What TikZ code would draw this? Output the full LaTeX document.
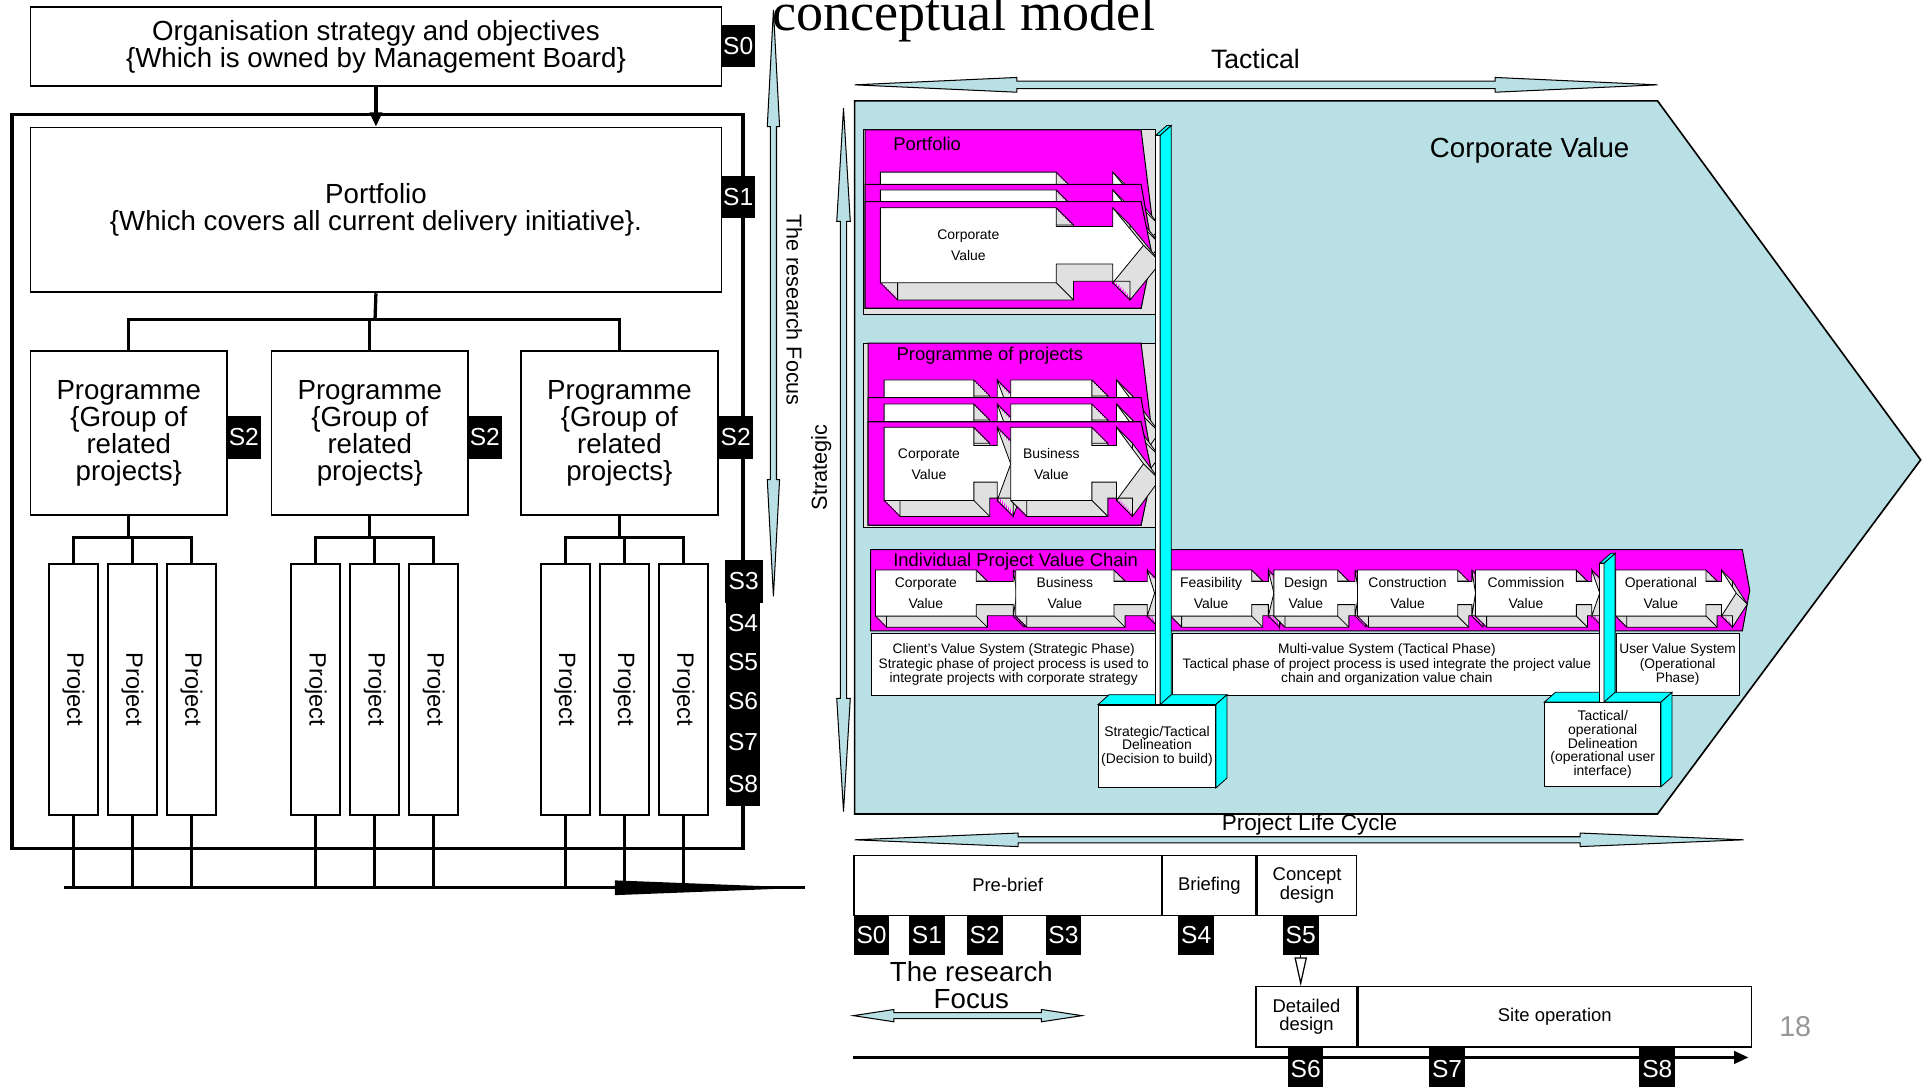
\documentclass[tikz,border=0pt]{standalone}
\usepackage{fontspec}
\setmainfont{Liberation Sans}
\newfontfamily\titlefont{Liberation Serif}
\usetikzlibrary{positioning,calc,arrows.meta}

\definecolor{cvblue}{RGB}{185,224,228}
\definecolor{panelgray}{RGB}{226,226,226}
\definecolor{sidegray}{RGB}{224,224,224}
\definecolor{valmag}{RGB}{255,0,255}
\definecolor{barcyan}{RGB}{0,255,255}
\definecolor{pagegray}{RGB}{150,150,150}

\newdimen\unitpx
\unitpx=0.6pt

% outline of a 3D value arrow: length, height, body end, shaft end, shift x, shift y
\newcommand{\arrowpath}[6]{({#5},{#6}) -- ({#3+#5},{#6}) -- ({#3+#5},{0.25*#2+#6}) -- ({#4+#5},{0.25*#2+#6}) -- ({#4+#5},{#6}) -- ({#1+#5},{0.5*#2+#6}) -- ({#4+#5},{#2+#6}) -- ({#4+#5},{0.75*#2+#6}) -- ({#3+#5},{0.75*#2+#6}) -- ({#3+#5},{#2+#6}) -- ({#5},{#2+#6}) -- cycle}

% x, y, length, height, body end, shaft end, depth, name, text
\newcommand{\valarrow}[9]{%
  \begin{scope}[shift={(#1,#2)}]
    \foreach \st in {1,...,8}
      \fill[sidegray] \arrowpath{#3}{#4}{#5}{#6}{\st*#7/8}{\st*#7/8};
    \draw[valline] \arrowpath{#3}{#4}{#5}{#6}{#7}{#7};
    \foreach \cx/\cy in {0/#4,#5/#4,#6/#4,#3/0.5*#4,#5/0,#6/0}
      \draw[valline] (\cx,\cy) -- ++(#7,#7);
    \filldraw[valline,fill=white] \arrowpath{#3}{#4}{#5}{#6}{0}{0};
    \node[valtext] (#8) at ({#5/2},{#4/2}) {#9};
  \end{scope}}

% magenta card: left, right, top, bottom, tip x
\newcommand{\maglayer}[5]{\filldraw[magfill] (#1,#3) -- (#2,#3) -- (#5,{(#3+#4)/2}) -- (#2,#4) -- (#1,#4) -- cycle;}

% block double arrows: from, to, at, head length, half head, half shaft
\newcommand{\hdblarrow}[6]{\filldraw[blockarrow] (#1,#3) -- ({#1+#4},{#3-#5}) -- ({#1+#4},{#3-#6}) -- ({#2-#4},{#3-#6}) -- ({#2-#4},{#3-#5}) -- (#2,#3) -- ({#2-#4},{#3+#5}) -- ({#2-#4},{#3+#6}) -- ({#1+#4},{#3+#6}) -- ({#1+#4},{#3+#5}) -- cycle;}
\newcommand{\vdblarrow}[6]{\filldraw[blockarrow] (#3,#1) -- ({#3-#5},{#1+#4}) -- ({#3-#6},{#1+#4}) -- ({#3-#6},{#2-#4}) -- ({#3-#5},{#2-#4}) -- (#3,#2) -- ({#3+#5},{#2-#4}) -- ({#3+#6},{#2-#4}) -- ({#3+#6},{#1+#4}) -- ({#3+#5},{#1+#4}) -- cycle;}

\begin{document}
\begin{tikzpicture}[x=0.6pt, y=-0.6pt,
    box/.style={draw, line width=0.9pt, fill=white, anchor=north west, inner sep=0pt, align=center, font=\fontsize{13.5}{13.2}\selectfont},
    tag/.style={fill=black, text=white, anchor=north west, inner sep=0pt, minimum width=28\unitpx, minimum height=34\unitpx, font=\fontsize{12}{12}\selectfont},
    projbox/.style={draw, line width=0.9pt, fill=white, anchor=north west, inner sep=0pt, minimum width=40\unitpx, minimum height=204\unitpx, font=\fontsize{11.5}{11.5}\selectfont},
    conn/.style={line width=1.6pt},
    valline/.style={draw=black, line width=0.4pt},
    valtext/.style={align=center, inner sep=0pt, font=\fontsize{6.8}{10.2}\selectfont},
    magfill/.style={fill=valmag, draw=black, line width=0.5pt},
    blockarrow/.style={fill=cvblue, draw=black, line width=0.5pt},
    barside/.style={fill=barcyan, draw=black, line width=0.4pt},
    descbox/.style={draw, line width=0.5pt, fill=white, anchor=north west, inner sep=0pt, align=center, minimum height=50\unitpx, font=\fontsize{6.7}{6.9}\selectfont},
    delbox/.style={draw, line width=0.5pt, fill=white, anchor=north west, inner sep=0pt, align=center, font=\fontsize{6.8}{6.7}\selectfont},
    tlbox/.style={draw, line width=0.6pt, fill=white, anchor=north west, inner sep=0pt, align=center, minimum height=49\unitpx, font=\fontsize{9}{9}\selectfont},
    panellbl/.style={inner sep=0pt, font=\fontsize{9}{9}\selectfont}]

  \useasboundingbox (0,0) rectangle (1568,884);
  \clip (0,0) rectangle (1568,884);
  \fill[white] (0,0) rectangle (1568,884);

  % ---- left: organisation hierarchy
  \node[box, minimum width=562\unitpx, minimum height=64\unitpx] (org) at (24,5) {Organisation strategy and objectives\\\{Which is owned by Management Board\}};
  \node[tag] (tS0) at (586,20) {S0};
  \draw[line width=1.8pt] (10,93) rectangle (604,690);
  \node[box, minimum width=562\unitpx, minimum height=134\unitpx] (port) at (24,103) {Portfolio\\\{Which covers all current delivery initiative\}.};
  \node[tag] (tS1) at (586,143) {S1};
  \draw[conn, -{Triangle[length=7pt,width=6pt]}] (org.south) -- (port.north);

  \coordinate (pbus) at (305,260);
  \coordinate (gbus) at (0,437);
  \coordinate (tlA) at (52,722);
  \coordinate (tlB) at (655,722);

  \foreach \i/\xa/\xt in {1/24/184, 2/220/380, 3/423/584} {
    \node[box, minimum width=160\unitpx, minimum height=133\unitpx] (prog\i) at (\xa,285) {Programme\\\{Group of\\related\\projects\}};
    \node[tag, minimum height=35\unitpx] (tS2\i) at (\xt,338) {S2};
  }
  \draw[conn] (port.south) -- (pbus);
  \draw[conn] (prog1.north) |- (pbus) -| (prog3.north);
  \draw[conn] (prog2.north) -- (prog2.north |- pbus);

  \foreach \g/\xa in {1/39, 2/236, 3/439} {
    \foreach \k in {1,2,3}
      \node[projbox] (prj\g\k) at ({\xa+48*(\k-1)},458) {\rotatebox{-90}{Project}};
    \draw[conn] (prog\g.south) -- (prog\g.south |- gbus);
    \draw[conn] (prj\g1.north) |- (prog\g.south |- gbus) -| (prj\g3.north);
    \draw[conn] (prj\g2.north) -- (prj\g2.north |- gbus);
    \foreach \k in {1,2,3}
      \draw[conn] (prj\g\k.south) -- (prj\g\k.south |- tlA);
  }

  \node[tag, minimum width=31\unitpx, minimum height=35\unitpx] (tS3) at (589,455) {S3};
  \foreach \s/\yy/\hh in {4/490/32, 5/522/32, 6/554/32, 7/586/34, 8/620/35}
    \node[tag, minimum height=\hh\unitpx] (tS\s) at (590,\yy) {S\s};

  \draw[conn] (tlA) -- (tlB);
  \fill (500,716) -- (655,722) -- (500,728) -- cycle;

  \vdblarrow{8}{485}{629}{95}{5}{2.5}
  \node[rotate=-90, font=\fontsize{10.5}{10.5}\selectfont] (focusLbl) at (646,252) {The research Focus};
  \node[anchor=base west, font=\titlefont\fontsize{26.4}{28}\selectfont, inner sep=0pt] (title) at (628,25) {conceptual model};

  % ---- right: value model
  \hdblarrow{695}{1348}{69}{132}{6}{3}
  \node[font=\fontsize{13}{13}\selectfont] (tacLbl) at (1021,48) {Tactical};
  \filldraw[fill=cvblue, draw=black, line width=0.8pt] (695,82) -- (1348,82) -- (1562,374) -- (1348,662) -- (695,662) -- cycle;
  \node[font=\fontsize{13.5}{13.5}\selectfont] (cvLbl) at (1244,122) {Corporate Value};
  \vdblarrow{88}{660}{686}{92}{5.5}{2.5}
  \node[rotate=90, font=\fontsize{10.6}{10.6}\selectfont] (stratLbl) at (668,380) {Strategic};

  % portfolio panel
  \filldraw[fill=panelgray, draw=black, line width=0.5pt] (702,105) rectangle (940,256);
  \maglayer{703.5}{928}{105.7}{250.7}{937}
  \valarrow{716}{140}{214}{61}{143}{189}{14}{pfA}{}
  \maglayer{703.5}{928}{150}{250.7}{937}
  \valarrow{716}{154.5}{214}{61}{143}{189}{14}{pfB}{}
  \maglayer{703.5}{928}{164}{250.7}{937}
  \valarrow{716}{169}{214}{61}{143}{189}{14}{pfC}{Corporate\\Value}
  \node[panellbl] (pfLbl) at (754,117) {Portfolio};

  % programme panel
  \filldraw[fill=panelgray, draw=black, line width=0.5pt] (702,279) rectangle (940,429);
  \maglayer{706}{928}{279}{427}{937}
  \valarrow{719}{309}{103}{59.5}{73}{92}{13}{pgA1}{}
  \valarrow{822}{309}{108}{59.5}{66}{86}{13}{pgB1}{}
  \maglayer{706}{928}{323.4}{427}{937}
  \valarrow{719}{328.6}{103}{59.5}{73}{92}{13}{pgA2}{}
  \valarrow{822}{328.6}{108}{59.5}{66}{86}{13}{pgB2}{}
  \maglayer{706}{928}{343}{427}{937}
  \valarrow{719}{347.5}{103}{59.5}{73}{92}{13}{pgA3}{Corporate\\Value}
  \valarrow{822}{347.5}{108}{59.5}{66}{86}{13}{pgB3}{Business\\Value}
  \node[panellbl] (pgLbl) at (805,289) {Programme of projects};

  % individual project value chain
  \filldraw[magfill] (708,447) -- (1417,447) -- (1423,480) -- (1417,513) -- (708,513) -- cycle;
  \valarrow{712}{463.6}{115}{37.5}{82}{112}{9}{chCorp}{Corporate\\Value}
  \valarrow{826}{463.6}{113}{37.5}{80}{107}{9}{chBus}{Business\\Value}
  \valarrow{952}{463.6}{84}{37.5}{66}{79.5}{9}{chFeas}{Feasibility\\Value}
  \valarrow{1036}{463.6}{69}{37.5}{52}{66}{9}{chDes}{Design\\Value}
  \valarrow{1104}{463.6}{96}{37.5}{81.5}{93}{9}{chCons}{Construction\\Value}
  \valarrow{1200}{463.6}{101}{37.5}{82}{94.5}{9}{chComm}{Commission\\Value}
  \valarrow{1314}{463.6}{98}{37.5}{73.5}{86}{9}{chOper}{Operational\\Value}
  \node[panellbl] (chLbl) at (826,457) {Individual Project Value Chain};

  \node[descbox, minimum width=232\unitpx] (clientBox) at (708,515) {Client's Value System (Strategic Phase)\\Strategic phase of project process is used to\\integrate projects with corporate strategy};
  \node[descbox, minimum width=349\unitpx] (multiBox) at (953,515) {Multi-value System (Tactical Phase)\\Tactical phase of project process is used integrate the project value\\chain and organization value chain};
  \node[descbox, minimum width=100\unitpx] (userBox) at (1314,515) {User Value System\\(Operational\\Phase)};

  % delineation boxes
  \node[delbox, minimum width=95\unitpx, minimum height=67\unitpx] (stratDel) at (893,573) {Strategic/Tactical\\Delineation\\(Decision to build)};
  \filldraw[barside] (stratDel.north west) -- ++(9,-8) -- ($(stratDel.north east)+(9,-8)$) -- (stratDel.north east) -- cycle;
  \filldraw[barside] (stratDel.north east) -- ++(9,-8) -- ($(stratDel.south east)+(9,-8)$) -- (stratDel.south east) -- cycle;
  \node[delbox, minimum width=94\unitpx, minimum height=68\unitpx] (tacDel) at (1256,571) {Tactical/\\operational\\Delineation\\(operational user\\interface)};
  \filldraw[barside] (tacDel.north west) -- ++(9,-8) -- ($(tacDel.north east)+(9,-8)$) -- (tacDel.north east) -- cycle;
  \filldraw[barside] (tacDel.north east) -- ++(9,-8) -- ($(tacDel.south east)+(9,-8)$) -- (tacDel.south east) -- cycle;

  % cyan planks
  \filldraw[fill=white, draw=black, line width=0.4pt] (940,110) rectangle (943.5,573);
  \filldraw[barside] (943.5,110) -- (952.5,102) -- (952.5,565) -- (943.5,573) -- cycle;
  \filldraw[barside] (940,110) -- (949,102) -- (952.5,102) -- (943.5,110) -- cycle;
  \filldraw[fill=white, draw=black, line width=0.4pt] (1301,458) rectangle (1304.5,571);
  \filldraw[barside] (1304.5,458) -- (1313.5,450) -- (1313.5,563) -- (1304.5,571) -- cycle;
  \filldraw[barside] (1301,458) -- (1310,450) -- (1313.5,450) -- (1304.5,458) -- cycle;

  % ---- project life cycle
  \hdblarrow{695}{1418}{683}{133}{5.5}{2.5}
  \node[font=\fontsize{11}{11}\selectfont] (plcLbl) at (1065,671) {Project Life Cycle};

  \node[tlbox, minimum width=250\unitpx] (preBrief) at (694,695) {Pre-brief};
  \node[tlbox, minimum width=76\unitpx, right=0pt of preBrief] (briefing) {Briefing};
  \node[tlbox, minimum width=81\unitpx, right=0pt of briefing] (concept) {Concept\\design};
  \foreach \s/\xx in {0/694, 1/739, 2/786, 3/850, 4/958, 5/1043}
    \node[tag, minimum width=29\unitpx, minimum height=31\unitpx] (bS\s) at (\xx,745) {S\s};

  \node[tlbox, minimum width=82\unitpx] (detail) at (1021,802) {Detailed\\design};
  \node[tlbox, minimum width=320\unitpx, right=0pt of detail] (siteOp) {Site operation};
  \draw[line width=0.6pt, -{Triangle[open, length=14pt, width=6pt]}] (bS5.south) -- (bS5.south |- detail.north);

  \coordinate (axA) at (694,860);
  \coordinate (axB) at (1422,860);
  \draw[line width=1.5pt, -{Triangle[length=7pt, width=6pt]}] (axA) -- (axB);
  \foreach \s/\xx in {6/1047, 7/1162, 8/1333}
    \node[tag, minimum width=29\unitpx] (bS\s) at (\xx,852) {S\s};

  \node[align=center, font=\fontsize{13.5}{13.2}\selectfont] (focusLbl2) at (790,801) {The research\\Focus};
  \hdblarrow{694}{880}{826}{33}{5}{2.5}
  \node[text=pagegray, font=\fontsize{14}{14}\selectfont] (pageNo) at (1460,835) {18};

\end{tikzpicture}
\end{document}
